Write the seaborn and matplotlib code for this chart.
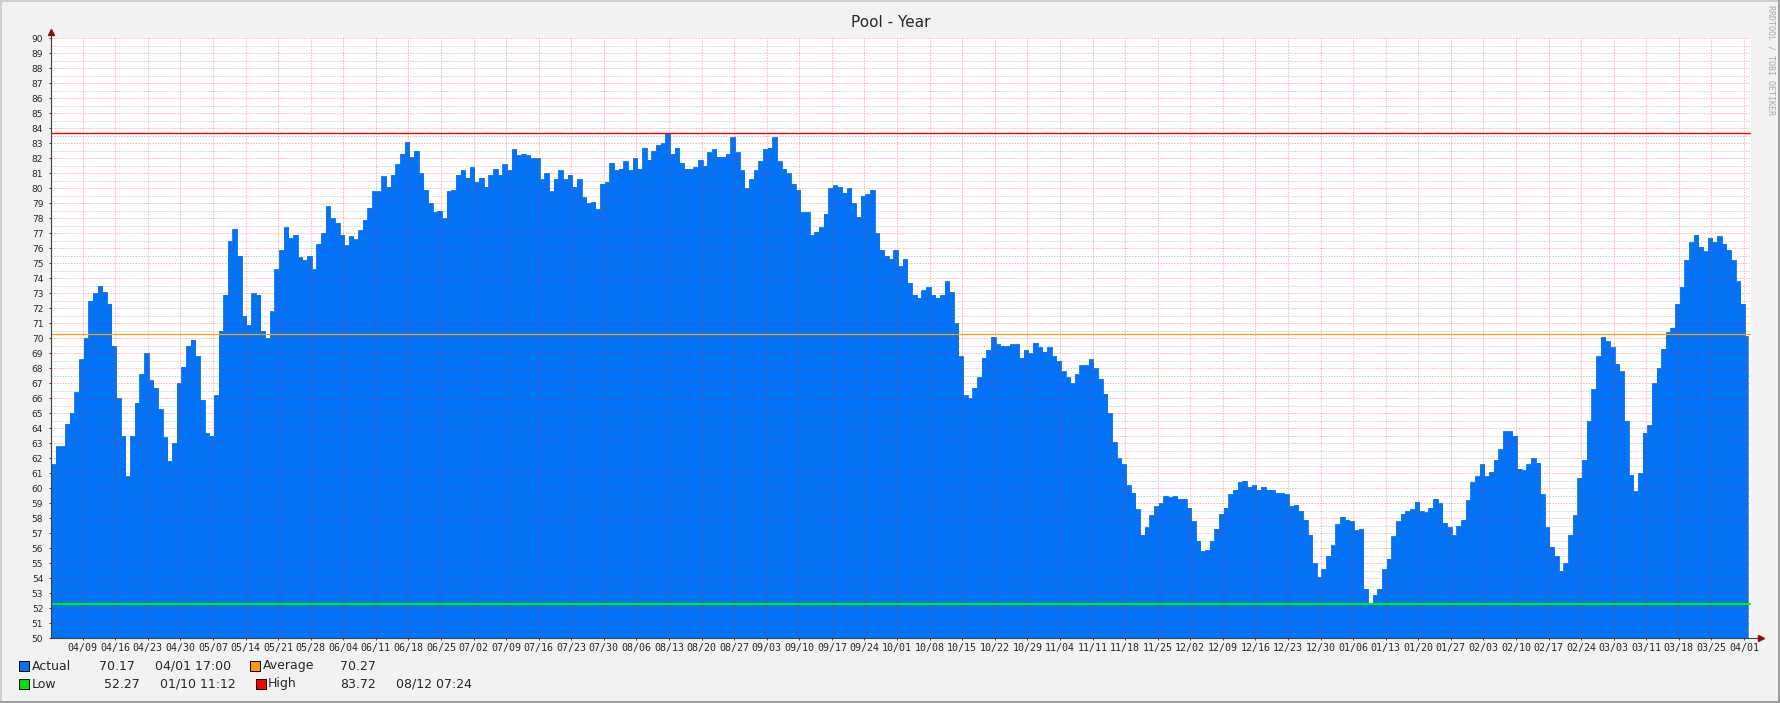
import numpy as np
import matplotlib
matplotlib.use('Agg')
import matplotlib.pyplot as plt
import seaborn as sns
from matplotlib.patches import Rectangle

# daily pool temperature, one value per day from the left edge of the graph
pool_temp = [
    61.6, 62.8, 62.8, 64.3, 65.0, 66.4, 68.6, 70.0, 72.5, 73.0,
    73.5, 73.1, 72.3, 69.5, 66.0, 63.5, 60.8, 63.5, 65.7, 67.6,
    69.0, 67.2, 66.7, 65.3, 63.4, 61.8, 63.0, 67.0, 68.1, 69.5,
    69.9, 68.8, 65.9, 63.7, 63.5, 66.2, 70.5, 72.9, 76.5, 77.3,
    75.5, 71.5, 70.9, 73.0, 72.9, 70.5, 70.0, 71.8, 74.6, 75.9,
    77.4, 76.7, 76.9, 75.4, 75.2, 75.5, 74.6, 76.3, 77.0, 78.8,
    78.0, 77.7, 76.9, 76.2,
    76.8, 76.6, 77.2, 77.9, 78.7, 79.8, 79.8, 80.8, 80.1, 80.9,
    81.6, 82.3, 83.1, 82.1, 82.5, 81.0, 79.9, 79.0, 78.4, 78.5,
    78.0, 79.8, 79.9, 80.9, 81.2, 80.7, 81.4, 80.4, 80.7, 80.1,
    80.9, 81.3, 80.9, 81.6, 81.2, 82.6, 82.2, 82.3, 82.2, 82.0,
    82.0, 80.6, 81.0, 79.8, 80.6, 81.2, 80.6, 80.9, 80.1, 80.6,
    79.4, 79.0, 79.1, 78.6, 80.3, 80.4, 81.7, 81.2, 81.3, 81.8,
    81.2, 82.0, 81.3, 82.7, 81.9,
    82.5, 82.9, 83.0, 83.7, 82.3, 82.7, 81.7, 81.3, 81.3, 81.4,
    81.9, 81.5, 82.4, 82.6, 82.1, 82.1, 82.3, 83.4, 82.4, 81.2,
    80.0, 80.6, 81.2, 81.8, 82.6, 82.7, 83.4, 81.8, 81.3, 81.0,
    80.3, 79.9, 78.4, 78.4, 76.9, 77.1, 77.4, 78.3, 80.0, 80.2,
    80.1, 79.7, 80.0, 79.0, 78.1, 79.5, 79.6, 79.9, 77.0, 75.9,
    75.5, 75.3, 75.9, 74.8, 75.3, 73.7, 72.9, 72.7, 73.2, 73.4,
    72.9, 72.7, 72.9, 73.8,
    73.1, 71.0, 68.8, 66.2, 66.0, 66.7, 67.4, 68.7, 69.2, 70.1,
    69.6, 69.5, 69.5, 69.6, 69.6, 68.7, 69.2, 69.0, 69.7, 69.4,
    69.1, 69.4, 68.8, 68.5, 67.8, 67.4, 67.0, 67.6, 68.2, 68.2,
    68.6, 68.0, 67.3, 66.3, 65.0, 63.1, 62.0, 61.6, 60.2, 59.7,
    58.6, 56.9, 57.4, 58.2, 58.8, 59.0, 59.5, 59.4, 59.5, 59.3,
    59.3, 58.7, 57.8, 56.5, 55.8, 55.9, 56.5, 57.3, 58.3, 58.7,
    59.6, 59.9, 60.4, 60.5, 60.1,
    60.2, 59.9, 60.1, 59.9, 59.9, 59.7, 59.7, 59.6, 58.8, 58.9,
    58.5, 57.9, 56.9, 55.0, 54.1, 54.6, 55.5, 56.2, 57.6, 58.1,
    57.9, 57.8, 57.2, 57.3, 53.3, 52.3, 52.9, 53.3, 54.6, 55.3,
    56.8, 57.8, 58.3, 58.5, 58.6, 59.1, 58.5, 58.4, 58.7, 59.3,
    59.0, 57.7, 57.4, 56.9, 57.5, 57.9, 59.2, 60.4, 60.8, 61.6,
    60.8, 61.1, 61.9, 62.6, 63.8, 63.8, 63.5, 61.3, 61.2, 61.6,
    62.0, 61.7, 59.6, 57.4,
    56.1, 55.5, 54.5, 55.0, 56.9, 58.2, 60.7, 61.9, 64.5, 66.6,
    68.8, 70.1, 69.8, 69.4, 68.3, 67.8, 64.5, 60.9, 59.8, 61.0,
    63.7, 64.2, 67.0, 68.0, 69.3, 70.4, 70.7, 72.3, 73.4, 75.2,
    76.4, 76.9, 76.1, 75.8, 76.7, 76.4, 76.8, 76.3, 75.9, 75.2,
    73.8, 72.3, 70.17,
]

week_labels = [
    '04/09', '04/16', '04/23', '04/30', '05/07', '05/14', '05/21', '05/28',
    '06/04', '06/11', '06/18', '06/25', '07/02', '07/09', '07/16', '07/23',
    '07/30', '08/06', '08/13', '08/20', '08/27', '09/03', '09/10', '09/17',
    '09/24', '10/01', '10/08', '10/15', '10/22', '10/29', '11/04', '11/11',
    '11/18', '11/25', '12/02', '12/09', '12/16', '12/23', '12/30', '01/06',
    '01/13', '01/20', '01/27', '02/03', '02/10', '02/17', '02/24', '03/03',
    '03/11', '03/18', '03/25', '04/01',
]
first_week = 6.8   # days from graph start to first week line

avg_value = 70.27
low_value = 52.27
high_value = 83.72

legend_rows = [
    # (label, colour, value, time)
    ('Actual', '#0073F8', '70.17', '04/01 17:00'),
    ('Average', '#FF9900', '70.27', ''),
    ('Low', '#00E000', '52.27', '01/10 11:12'),
    ('High', '#FF0000', '83.72', '08/12 07:24'),
]

BLUE = '#0073F8'

sns.set_style('white')
plt.rcParams['font.family'] = ['DejaVu Sans']

W, H = 1781, 703
fig = plt.figure(figsize=(W / 100, H / 100), dpi=100, facecolor='#F2F2F2')
ax = fig.add_axes([51 / W, 1 - 638.3 / H, 1700 / W, 600 / H])
ax.set_facecolor('white')

n = len(pool_temp)
x_edges = np.append(np.arange(n), n - 0.3)
y_edges = np.append(pool_temp, pool_temp[-1])
ax.fill_between(x_edges, y_edges, 50, step='post', color=BLUE, lw=0, zorder=1)
sns.lineplot(x=x_edges, y=y_edges, drawstyle='steps-post', color=BLUE,
             lw=0.6, ax=ax, zorder=2)

ax.set_xlim(0, n + 0.3)
ax.set_ylim(50, 90)

# grid: red dotted at every degree and week, grey dotted at half degrees
dots = (0, (1.4, 1.4))
for y in np.arange(50.5, 90, 1.0):
    ax.axhline(y, color=(0.45, 0.45, 0.45, 0.35), lw=0.72, ls=dots, zorder=3)
for y in range(51, 91):
    ax.axhline(y, color=(1, 0.15, 0.15, 0.35), lw=0.72, ls=dots, zorder=3)
week_pos = [first_week + 7 * i for i in range(len(week_labels))]
for xp in week_pos:
    ax.axvline(xp, color=(1, 0.15, 0.15, 0.35), lw=0.72, ls=dots, zorder=3)

# reference lines
xmax_frac = (n) / (n + 0.3)
ax.axhline(high_value, xmax=xmax_frac, color='#FF0000', lw=1.0, zorder=4)
ax.axhline(avg_value, xmax=xmax_frac, color='#FFA000', lw=0.9, zorder=4)
ax.axhline(low_value, xmax=xmax_frac, color='#00F000', lw=1.5, zorder=4)

# axes
for s in ['top', 'right']:
    ax.spines[s].set_visible(False)
for s in ['left', 'bottom']:
    ax.spines[s].set_color('#404040')
    ax.spines[s].set_linewidth(0.8)
    ax.spines[s].set_zorder(5)
ax.plot([1, 1.006], [0, 0], transform=ax.transAxes, color='#404040',
        lw=0.8, clip_on=False, zorder=5)
ax.plot([1.006], [0], marker='>', ms=4, color='#8B1010',
        transform=ax.transAxes, clip_on=False, zorder=6)
ax.plot([0, 0], [1, 1.008], transform=ax.transAxes, color='#404040',
        lw=0.8, clip_on=False, zorder=5)
ax.plot([0], [1.01], marker='^', ms=4, color='#8B1010',
        transform=ax.transAxes, clip_on=False, zorder=6)

ax.set_yticks(range(50, 91))
ax.set_yticklabels([str(v) for v in range(50, 91)])
ax.tick_params(axis='y', labelsize=6.5, length=1.6, width=0.7,
               color='#404040', pad=4, left=True)
ax.set_xticks(week_pos)
ax.set_xticklabels(week_labels, family='DejaVu Sans Mono', fontsize=7.2)
ax.tick_params(axis='x', length=1.6, width=0.7, color='#404040', pad=2,
               bottom=True)
ax.set_xlabel('')
ax.set_ylabel('')

# title and watermark
fig.text(890.5 / W, 1 - 22.5 / H, 'Pool - Year', ha='center', va='center',
         fontsize=11)
fig.text(1771 / W, 1 - 5 / H, 'RRDTOOL / TOBI OETIKER', rotation=270,
         ha='center', va='top', fontsize=6, family='DejaVu Sans Mono',
         color='#A8A8A8')

# legend
def swatch(px, py, color):
    fig.add_artist(Rectangle((px / W, 1 - (py + 5) / H), 10 / W, 10 / H,
                             transform=fig.transFigure, facecolor=color,
                             edgecolor='black', lw=0.7))

row_y = [666, 684]
cols = [(19, 32, 99, 155), (250, 263, 340, None),
        (19, 32, 104, 160), (255.7, 268, 340, 396)]
for i, (label, color, val, when) in enumerate(legend_rows):
    sx, lx, vx, tx = cols[i]
    yy = row_y[i // 2]
    swatch(sx, yy, color)
    fig.text(lx / W, 1 - yy / H, label, va='center', fontsize=9)
    fig.text(vx / W, 1 - yy / H, val, va='center', fontsize=9)
    if when:
        fig.text(tx / W, 1 - yy / H, when, va='center', fontsize=9)

# canvas border (light top/left, dark right/bottom)
fig.add_artist(Rectangle((0, 1 - 2 / H), 1, 2 / H, transform=fig.transFigure,
                         color='#CFCFCF', lw=0))
fig.add_artist(Rectangle((0, 0), 2 / W, 1, transform=fig.transFigure,
                         color='#CFCFCF', lw=0))
fig.add_artist(Rectangle((1 - 2.5 / W, 0), 2.5 / W, 1, transform=fig.transFigure,
                         color='#9E9E9E', lw=0))
fig.add_artist(Rectangle((0, 0), 1, 2.5 / H, transform=fig.transFigure,
                         color='#9E9E9E', lw=0))

print(len(pool_temp))
fig.savefig('out.png', dpi=100, facecolor=fig.get_facecolor())
